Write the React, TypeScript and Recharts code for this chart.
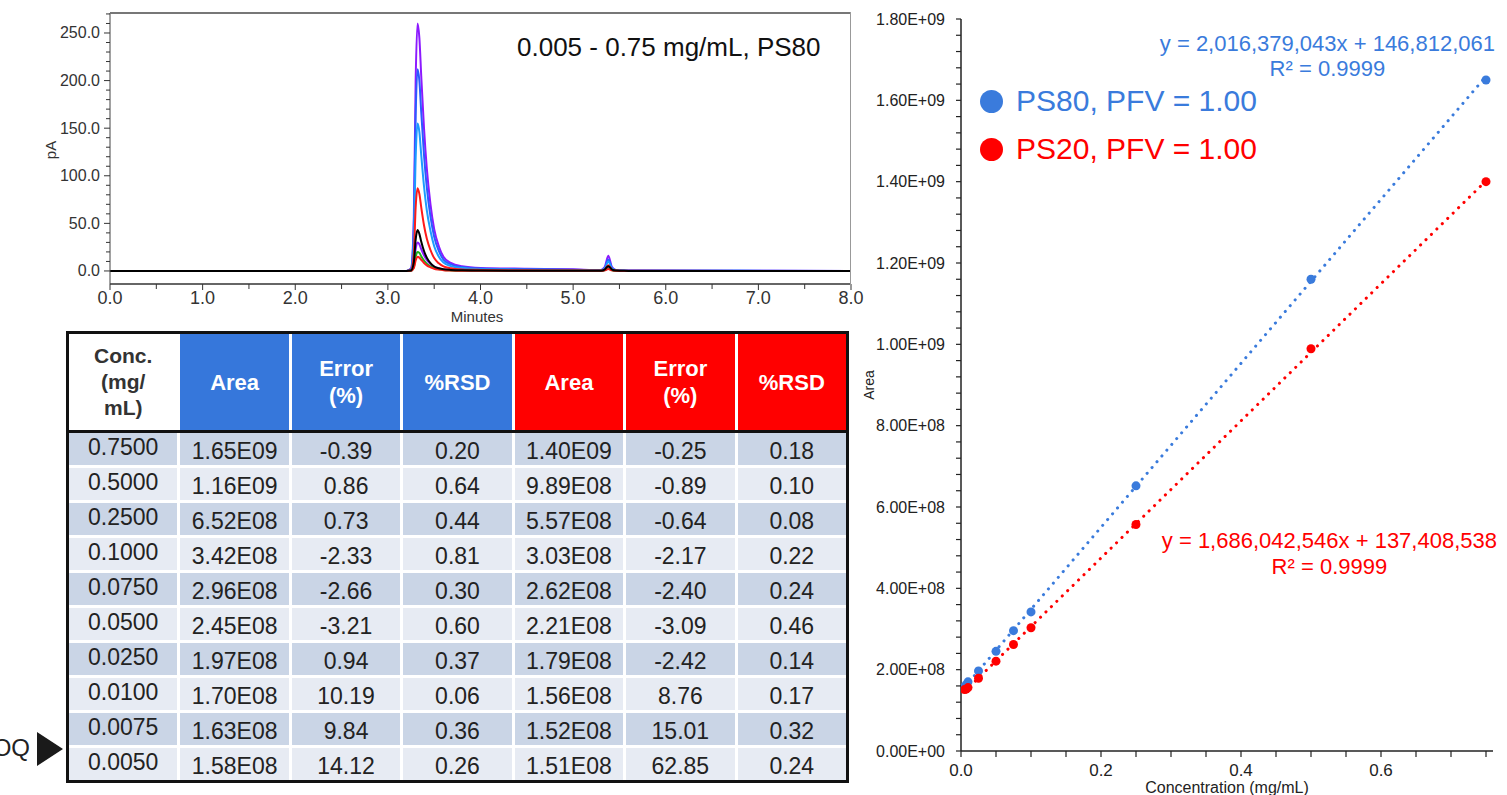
import React from 'react';
import { LineChart, Line, XAxis, YAxis, ScatterChart, Scatter } from 'recharts';

const FONT = '"Liberation Sans", Arial, Helvetica, sans-serif';
const BLUE = '#3a7bdc';
const RED = '#ff0000';
const HEAD_BLUE = '#3677db';
const HEAD_RED = '#ff0000';
const ROW_DARK = '#cad5e6';
const ROW_LIGHT = '#e7ebf3';

// ---------- Chromatogram (pA vs minutes) ----------
const chromTime = [0, 3.2, 3.25, 3.28, 3.3, 3.32, 3.34, 3.36, 3.39, 3.42, 3.46, 3.5, 3.55, 3.6, 3.68, 3.8, 4.0, 4.5, 5.0, 5.3, 5.34, 5.38, 5.42, 5.46, 5.55, 5.7, 8.0];
const traceViolet = [0, 0, 2.6, 55, 200, 260, 245, 205, 150, 108, 70, 44, 26, 15, 8.5, 5.0, 3.2, 2.3, 1.7, 1.0, 4, 16, 4, 1, 0.5, 0.5, 0];
const traceBlue = [0, 0, 2.1, 45, 163, 212, 200, 167, 122, 88, 57, 36, 21, 12, 7, 4.1, 2.6, 1.9, 1.4, 0.8, 3, 12, 3, 1, 0.5, 0.4, 0];
const traceAzure = [0, 0, 1.6, 33, 119, 155, 146, 122, 89, 64, 42, 26, 15, 8.8, 5.1, 3.0, 1.9, 1.3, 1.0, 0.6, 2.5, 10, 2.5, 0.8, 0.4, 0.3, 0];
const traceRed = [0, 0, 0.9, 18, 67, 87, 81, 67, 48, 34, 22, 13.5, 8, 4.8, 2.8, 1.6, 1.1, 0.7, 0.5, 0.3, 1.5, 6, 1.5, 0.5, 0.3, 0.2, 0];
const traceViolet2 = [0, 0, 0.3, 6, 23, 30, 28, 23, 16.5, 11.5, 7.3, 4.5, 2.7, 1.6, 0.9, 0.5, 0.3, 0.2, 0.2, 0.1, 1, 3, 1, 0.3, 0, 0, 0];
const traceGreen = [0, 0, 0.2, 4, 15, 20, 19, 15.5, 11, 7.7, 4.9, 3.0, 1.8, 1.1, 0.6, 0.3, 0.2, 0.2, 0.1, 0.1, 0.8, 2.5, 0.8, 0.2, 0, 0, 0];
const traceRed2 = [0, 0, 0.15, 3, 11, 15, 14, 11.8, 8.4, 5.9, 3.8, 2.3, 1.4, 0.8, 0.5, 0.2, 0.2, 0.1, 0.1, 0.1, 0.6, 2, 0.6, 0.2, 0, 0, 0];
const traceBlack = [0, 0, 0.4, 9, 33, 43, 39, 31, 21, 14, 8.2, 4.7, 2.8, 1.7, 1.1, 0.7, 0.5, 0.3, 0.3, 0.2, 1.5, 5, 1.5, 0.4, 0.1, 0, 0];

const traceList = [
  { key: 'violet', values: traceViolet, color: '#8c1aff' },
  { key: 'blue', values: traceBlue, color: '#2a5cff' },
  { key: 'azure', values: traceAzure, color: '#1c9cff' },
  { key: 'red', values: traceRed, color: '#ff1a1a' },
  { key: 'violet2', values: traceViolet2, color: '#8c1aff' },
  { key: 'green', values: traceGreen, color: '#1db31d' },
  { key: 'red2', values: traceRed2, color: '#ff1a1a' },
  { key: 'black', values: traceBlack, color: '#000000' },
];

const chromData = chromTime.map((t, i) => {
  const row: any = { t };
  traceList.forEach((tr) => { row[tr.key] = tr.values[i]; });
  return row;
});

const chromTicksX = Array.from({ length: 17 }, (_, i) => i * 0.5);
const chromTicksY = Array.from({ length: 28 }, (_, i) => i * 10);

// ---------- Table / calibration data ----------
const concentrations = [0.75, 0.5, 0.25, 0.1, 0.075, 0.05, 0.025, 0.01, 0.0075, 0.005];
const ps80Area = [1.65e9, 1.16e9, 6.52e8, 3.42e8, 2.96e8, 2.45e8, 1.97e8, 1.70e8, 1.63e8, 1.58e8];
const ps80Error = [-0.39, 0.86, 0.73, -2.33, -2.66, -3.21, 0.94, 10.19, 9.84, 14.12];
const ps80Rsd = [0.20, 0.64, 0.44, 0.81, 0.30, 0.60, 0.37, 0.06, 0.36, 0.26];
const ps20Area = [1.40e9, 9.89e8, 5.57e8, 3.03e8, 2.62e8, 2.21e8, 1.79e8, 1.56e8, 1.52e8, 1.51e8];
const ps20Error = [-0.25, -0.89, -0.64, -2.17, -2.40, -3.09, -2.42, 8.76, 15.01, 62.85];
const ps20Rsd = [0.18, 0.10, 0.08, 0.22, 0.24, 0.46, 0.14, 0.17, 0.32, 0.24];

// regression line end points (from the fitted equations shown)
const trendPs80 = [{ x: 0.005, y: 1.569e8 }, { x: 0.75, y: 1.659e9 }];
const trendPs20 = [{ x: 0.005, y: 1.458e8 }, { x: 0.75, y: 1.402e9 }];

const ps80Points = concentrations.map((c, i) => ({ x: c, y: ps80Area[i] }));
const ps20Points = concentrations.map((c, i) => ({ x: c, y: ps20Area[i] }));

const areaTicks = Array.from({ length: 46 }, (_, i) => i * 4e7);
const concTicks = Array.from({ length: 16 }, (_, i) => i * 0.05);

const fmtAxisSci = (v: number) => {
  if (v === 0) return '0.00E+00';
  const e = Math.floor(Math.log10(v) + 1e-9);
  const m = v / Math.pow(10, e);
  return m.toFixed(2) + 'E+' + String(e).padStart(2, '0');
};
const fmtTableSci = (v: number) => {
  const e = Math.floor(Math.log10(v) + 1e-9);
  const m = v / Math.pow(10, e);
  return m.toFixed(2) + 'E' + String(e).padStart(2, '0');
};

// ---------- tick renderers ----------
const ChromXTick = (props: any) => {
  const { x, payload } = props;
  const v = payload.value;
  const major = Math.abs(v - Math.round(v)) < 1e-6;
  return (
    <g>
      <line x1={x} x2={x} y1={284} y2={major ? 290 : 289} stroke="#333" strokeWidth={1} />
      {major && (
        <text x={x} y={298} textAnchor="middle" dominantBaseline="central" fontSize={18} fill="#333" fontFamily={FONT}>
          {v.toFixed(1)}
        </text>
      )}
    </g>
  );
};

const ChromYTick = (props: any) => {
  const { y, payload } = props;
  const v = payload.value;
  const major = Math.round(v) % 50 === 0;
  return (
    <g>
      <line x1={major ? 104 : 106} x2={110} y1={y} y2={y} stroke="#333" strokeWidth={1} />
      {major && (
        <text x={100} y={y} textAnchor="end" dominantBaseline="central" fontSize={16} fill="#333" fontFamily={FONT}>
          {v.toFixed(1)}
        </text>
      )}
    </g>
  );
};

const AreaTick = (props: any) => {
  const { y, payload } = props;
  const v = payload.value;
  const major = Math.round(v / 4e7) % 5 === 0;
  return (
    <g>
      <line x1={104} x2={109} y1={y} y2={y} stroke="#222" strokeWidth={1.2} />
      {major && (
        <text x={93} y={y} textAnchor="end" dominantBaseline="central" fontSize={16} fill="#222" fontFamily={FONT}>
          {fmtAxisSci(v)}
        </text>
      )}
    </g>
  );
};

const ConcTick = (props: any) => {
  const { x, payload } = props;
  const v = payload.value;
  const major = Math.round(v * 20) % 4 === 0;
  return (
    <g>
      <line x1={x} x2={x} y1={751} y2={757} stroke="#222" strokeWidth={1.2} />
      {major && (
        <text x={x} y={770} textAnchor="middle" dominantBaseline="central" fontSize={17} fill="#222" fontFamily={FONT}>
          {v.toFixed(1)}
        </text>
      )}
    </g>
  );
};

const dotShape = (color: string) => (p: any) => <circle cx={p.cx} cy={p.cy} r={4.5} fill={color} />;
const noShape = () => <g />;

// ---------- table ----------
const headCell = (bg: string, color: string, lines: string[], fs: number, lh: number) => (
  <div style={{ background: bg, color, display: 'flex', flexDirection: 'column', alignItems: 'center', justifyContent: 'center', fontWeight: 'bold', fontSize: fs, lineHeight: lh + 'px' }}>
    {lines.map((l, i) => <div key={i}>{l}</div>)}
  </div>
);

function DataTable() {
  const rows = concentrations.map((c, i) => [
    c.toFixed(4),
    fmtTableSci(ps80Area[i]),
    ps80Error[i].toFixed(2),
    ps80Rsd[i].toFixed(2),
    fmtTableSci(ps20Area[i]),
    ps20Error[i].toFixed(2),
    ps20Rsd[i].toFixed(2),
  ]);
  return (
    <div style={{ position: 'absolute', left: 66, top: 331, width: 783, height: 452, boxSizing: 'border-box', border: '3px solid #111', background: '#fff' }}>
      <div style={{ display: 'grid', gridTemplateColumns: 'repeat(7, 1fr)', columnGap: 3, height: 96 }}>
        {headCell('#fff', '#333', ['Conc.', '(mg/', 'mL)'], 21, 26)}
        {headCell(HEAD_BLUE, '#fff', ['Area'], 22, 27)}
        {headCell(HEAD_BLUE, '#fff', ['Error', '(%)'], 22, 27)}
        {headCell(HEAD_BLUE, '#fff', ['%RSD'], 22, 27)}
        {headCell(HEAD_RED, '#fff', ['Area'], 22, 27)}
        {headCell(HEAD_RED, '#fff', ['Error', '(%)'], 22, 27)}
        {headCell(HEAD_RED, '#fff', ['%RSD'], 22, 27)}
      </div>
      <div style={{ height: 3, background: '#111' }} />
      <div style={{ display: 'grid', gridTemplateColumns: 'repeat(7, 1fr)', gridTemplateRows: 'repeat(10, 1fr)', columnGap: 3, rowGap: 3, height: 347 }}>
        {rows.map((r, ri) =>
          r.map((cell, ci) => (
            <div key={ri + '-' + ci} style={{ background: ri % 2 === 0 ? ROW_DARK : ROW_LIGHT, color: '#222', fontSize: 23, display: 'flex', alignItems: 'center', justifyContent: 'center', paddingTop: ci === 0 ? 0 : 4, paddingBottom: ci === 0 ? 4 : 0, boxSizing: 'border-box' }}>
              {cell}
            </div>
          ))
        )}
      </div>
    </div>
  );
}

export default function App() {
  return (
    <div style={{ position: 'fixed', left: 0, top: 0, width: 1507, height: 795, overflow: 'hidden', background: '#fff', fontFamily: FONT }}>
      {/* Chromatogram */}
      <div style={{ position: 'absolute', left: 0, top: 0 }}>
        <LineChart width={870} height={330} data={chromData} margin={{ top: 13, right: 19, bottom: 22, left: 0 }}>
          <XAxis
            type="number"
            dataKey="t"
            domain={[0, 8]}
            ticks={chromTicksX}
            interval={0}
            tick={ChromXTick}
            tickLine={false}
            axisLine={{ stroke: '#666', strokeWidth: 2 }}
            height={24}
            label={{ content: () => <text x={477} y={316} textAnchor="middle" dominantBaseline="central" fontSize={15} fill="#333" fontFamily={FONT}>Minutes</text> }}
          />
          <YAxis
            type="number"
            domain={[-13.7, 271]}
            allowDataOverflow
            ticks={chromTicksY}
            interval={0}
            tick={ChromYTick}
            tickLine={false}
            axisLine={{ stroke: '#444' }}
            width={110}
            label={{ content: () => <text x={50} y={150} transform="rotate(-90 50 150)" textAnchor="middle" dominantBaseline="central" fontSize={15} fill="#333" fontFamily={FONT}>pA</text> }}
          />
          {traceList.map((tr) => (
            <Line key={tr.key} type="monotone" dataKey={tr.key} stroke={tr.color} strokeWidth={2} dot={false} isAnimationActive={false} />
          ))}
        </LineChart>
      </div>
      <div style={{ position: 'absolute', left: 110, top: 12, width: 741, height: 2, background: '#777' }} />
      <div style={{ position: 'absolute', left: 850, top: 12, width: 1, height: 273, background: '#999' }} />
      <div style={{ position: 'absolute', left: 517, top: 34, fontSize: 26, lineHeight: '26px', color: '#111', whiteSpace: 'nowrap' }}>
        0.005 - 0.75 mg/mL, PS80
      </div>

      {/* Table */}
      <DataTable />
      <div style={{ position: 'absolute', left: -60, top: 734, width: 90, textAlign: 'right', fontSize: 24, lineHeight: '28px', color: '#222' }}>LOQ</div>
      <div style={{ position: 'absolute', left: 37, top: 732, width: 0, height: 0, borderTop: '17.5px solid transparent', borderBottom: '17.5px solid transparent', borderLeft: '26px solid #1a1a1a' }} />

      {/* Calibration plot */}
      <div style={{ position: 'absolute', left: 852, top: 0 }}>
        <ScatterChart width={655} height={795} margin={{ top: 19, right: 14, bottom: 14, left: 0 }}>
          <XAxis
            type="number"
            dataKey="x"
            domain={[0, 0.76]}
            allowDataOverflow
            ticks={concTicks}
            interval={0}
            tick={ConcTick}
            tickLine={false}
            axisLine={{ stroke: '#222', strokeWidth: 1.5 }}
            height={30}
            label={{ content: () => <text x={375} y={787} textAnchor="middle" dominantBaseline="central" fontSize={16} fill="#222" fontFamily={FONT}>Concentration (mg/mL)</text> }}
          />
          <YAxis
            type="number"
            dataKey="y"
            domain={[0, 1.8e9]}
            allowDataOverflow
            ticks={areaTicks}
            interval={0}
            tick={AreaTick}
            tickLine={false}
            axisLine={{ stroke: '#222', strokeWidth: 1.5 }}
            width={109}
            label={{ content: () => <text x={17} y={385} transform="rotate(-90 17 385)" textAnchor="middle" dominantBaseline="central" fontSize={14} fill="#222" fontFamily={FONT}>Area</text> }}
          />
          <Scatter data={trendPs80} line={{ stroke: BLUE, strokeWidth: 3, strokeDasharray: '0.1 7.5', strokeLinecap: 'round' }} shape={noShape} isAnimationActive={false} legendType="none" />
          <Scatter data={trendPs20} line={{ stroke: RED, strokeWidth: 3, strokeDasharray: '0.1 7.5', strokeLinecap: 'round' }} shape={noShape} isAnimationActive={false} legendType="none" />
          <Scatter data={ps80Points} shape={dotShape(BLUE)} isAnimationActive={false} />
          <Scatter data={ps20Points} shape={dotShape(RED)} isAnimationActive={false} />
        </ScatterChart>
      </div>

      {/* Legend */}
      <div style={{ position: 'absolute', left: 980, top: 89.5, width: 23, height: 23, borderRadius: '50%', background: BLUE }} />
      <div style={{ position: 'absolute', left: 1016, top: 86, fontSize: 30, lineHeight: '30px', color: BLUE, whiteSpace: 'nowrap' }}>PS80, PFV = 1.00</div>
      <div style={{ position: 'absolute', left: 980, top: 137.5, width: 23, height: 23, borderRadius: '50%', background: RED }} />
      <div style={{ position: 'absolute', left: 1016, top: 134, fontSize: 30, lineHeight: '30px', color: RED, whiteSpace: 'nowrap' }}>PS20, PFV = 1.00</div>

      {/* Equations */}
      <div style={{ position: 'absolute', right: 12, top: 30.5, textAlign: 'center', fontSize: 22, lineHeight: '25px', color: BLUE, whiteSpace: 'nowrap' }}>
        <div>y = 2,016,379,043x + 146,812,061</div>
        <div>R² = 0.9999</div>
      </div>
      <div style={{ position: 'absolute', right: 10, top: 527.5, textAlign: 'center', fontSize: 22, lineHeight: '26px', color: RED, whiteSpace: 'nowrap' }}>
        <div>y = 1,686,042,546x + 137,408,538</div>
        <div>R² = 0.9999</div>
      </div>
    </div>
  );
}
